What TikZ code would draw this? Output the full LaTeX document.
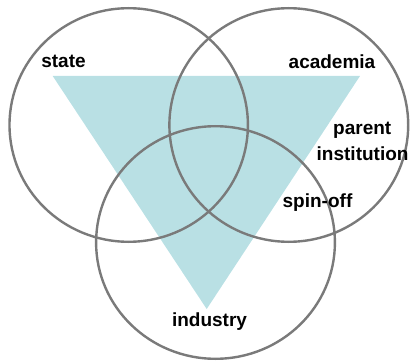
\documentclass[tikz,border=0pt]{standalone}
\usepackage{fontspec}
\setmainfont{Liberation Sans}
\definecolor{tealfill}{RGB}{185,224,228}
\definecolor{ringgray}{RGB}{122,122,122}
\begin{document}
\begin{tikzpicture}[x=1pt,y=-1pt,
  ring/.style={draw=ringgray,line width=2.4pt},
  lbl/.style={inner sep=0pt,font=\fontsize{19}{21}\selectfont\bfseries,text=black,align=center}]
\useasboundingbox (0,0) rectangle (410,361);
\clip (0,0) rectangle (410,361);
\coordinate (tl) at (52.7,76);
\coordinate (tr) at (360,76);
\coordinate (tb) at (206.7,309);
\fill[tealfill] (tl) -- (tr) -- (tb) -- cycle;
\draw[ring] (128.7,125) ellipse [x radius=119.2, y radius=116.8];
\draw[ring] (288.8,125) ellipse [x radius=119.4, y radius=116.8];
\draw[ring] (215.5,242.5) ellipse [x radius=119.4, y radius=116.3];
\node[lbl] (state) at (63.5,61.5) {state};
\node[lbl] (academia) at (332,61.5) {academia};
\node[lbl,anchor=west] (parent) at (333,130) {parent};
\node[lbl,anchor=west] (inst) at (316.5,154) {institution};
\node[lbl] (spin) at (317.5,203) {spin-off};
\node[lbl] (industry) at (209.5,321.5) {industry};
\end{tikzpicture}
\end{document}
